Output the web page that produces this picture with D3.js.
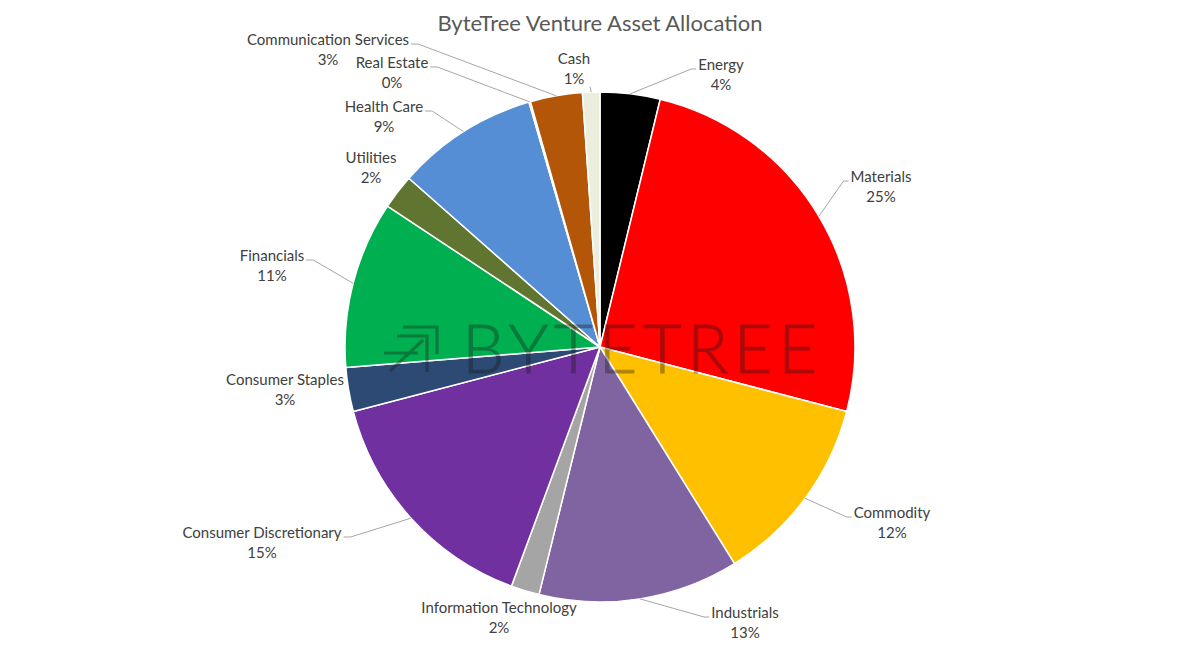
<!DOCTYPE html>
<html>
<head>
<meta charset="utf-8">
<script src="https://cdn.jsdelivr.net/npm/d3@7"></script>
<style>
  html, body { margin: 0; padding: 0; background: #fff; }
  svg { display: block; }
</style>
</head>
<body>
<svg id="chart" width="1200" height="653"></svg>
<script>
// ---- Data ----
const categories = ["Energy", "Materials", "Commodity", "Industrials", "Information Technology",
  "Consumer Discretionary", "Consumer Staples", "Financials", "Utilities", "Health Care",
  "Real Estate", "Communication Services", "Cash"];
const values = [3.8, 25.3, 12.1, 12.7, 1.8, 15.3, 2.8, 10.6, 2.2, 9.0, 0.1, 3.3, 1.1];
const percentLabels = ["4%", "25%", "12%", "13%", "2%", "15%", "3%", "11%", "2%", "9%", "0%", "3%", "1%"];
const colors = ["#000000", "#FF0000", "#FFC000", "#8064A2", "#A5A5A5", "#7030A0", "#2C4A74",
  "#00B050", "#5F7530", "#558ED5", "#C0504D", "#B45607", "#EBEEDD"];
const title = "ByteTree Venture Asset Allocation";

// ---- Layout (label centres: x, first-line centre y, leader side) ----
const labelLayout = {
  "Energy": [721, 65, "l"],
  "Materials": [881, 177, "l"],
  "Commodity": [892, 513, "l"],
  "Industrials": [745, 613, "l"],
  "Information Technology": [499, 608, null],
  "Consumer Discretionary": [262, 533, "r"],
  "Consumer Staples": [285, 380, null],
  "Financials": [272, 256, "r"],
  "Utilities": [371, 158, null],
  "Health Care": [384, 107, "r"],
  "Real Estate": [392, 63, "r"],
  "Communication Services": [328, 40, "r"],
  "Cash": [574, 59, "b"]
};

const W = 1200, H = 653;
const cx = 600, cy = 347, R = 255;
const svg = d3.select("#chart");

svg.append("text")
  .attr("x", 600).attr("y", 31)
  .attr("text-anchor", "middle")
  .attr("font-family", "Lato, 'Open Sans', sans-serif")
  .attr("font-size", 22)
  .attr("fill", "#595959")
  .text(title);

const pie = d3.pie().sort(null).value(d => d.value);
const data = categories.map((c, i) => ({ name: c, value: values[i], pct: percentLabels[i], color: colors[i] }));
const arcs = pie(data);
const arc = d3.arc().innerRadius(0).outerRadius(R);

const g = svg.append("g").attr("transform", `translate(${cx},${cy})`);
g.selectAll("path.slice").data(arcs).enter().append("path")
  .attr("class", "slice")
  .attr("d", arc)
  .attr("fill", d => d.data.color)
  .attr("stroke", "#fff")
  .attr("stroke-width", 1.5)
  .attr("stroke-linejoin", "round");

// ---- Watermark ----
const wm = svg.append("g").attr("opacity", 0.36);
const logo = wm.append("g").attr("fill", "none").attr("stroke", "#1a1a1a").attr("stroke-width", 3.2);
logo.append("path").attr("d", "M403,327 L437,327 L437,354");
logo.append("path").attr("d", "M397,336 L427,336 L427,372");
logo.append("path").attr("d", "M384,353 L418,353");
logo.append("path").attr("d", "M390,371 L423,340");
wm.append("text")
  .attr("x", 462).attr("y", 373)
  .attr("font-family", "Lato, Inter, sans-serif")
  .attr("font-weight", 300)
  .attr("font-size", 67)
  .attr("fill", "#1a1a1a")
  .attr("stroke", "#1a1a1a")
  .attr("stroke-width", 0.9)
  .attr("textLength", 355)
  .attr("lengthAdjust", "spacing")
  .text("BYTETREE");

// ---- Labels & leader lines ----
const lab = svg.append("g")
  .attr("font-family", "Lato, 'Open Sans', sans-serif")
  .attr("font-size", 15)
  .attr("fill", "#404040");
const lines = svg.append("g").attr("stroke", "#A6A6A6").attr("stroke-width", 1).attr("fill", "none");

arcs.forEach(a => {
  const [lx, ly, side] = labelLayout[a.data.name];
  const t = lab.append("text").attr("text-anchor", "middle");
  t.append("tspan").attr("x", lx).attr("y", ly + 5).text(a.data.name);
  t.append("tspan").attr("x", lx).attr("y", ly + 25).text(a.data.pct);
  const w = t.select("tspan").node().getComputedTextLength();
  if (!side) return;
  const mid = (a.startAngle + a.endAngle) / 2;
  const px = cx + R * Math.sin(mid), py = cy - R * Math.cos(mid);
  let pts;
  if (side === "l") {
    const ex = lx - w / 2 - 2, ey = ly + 4;
    pts = [[ex, ey], [ex - 5, ey], [px, py]];
  } else if (side === "r") {
    const ex = lx + w / 2 + 2, ey = ly + 4;
    pts = [[ex, ey], [ex + 7, ey], [px, py]];
  } else {
    const ex = lx + w / 2, ey = ly + 28;
    pts = [[ex, ey], [px, py]];
  }
  lines.append("path").attr("d", d3.line()(pts));
});
</script>
</body>
</html>
